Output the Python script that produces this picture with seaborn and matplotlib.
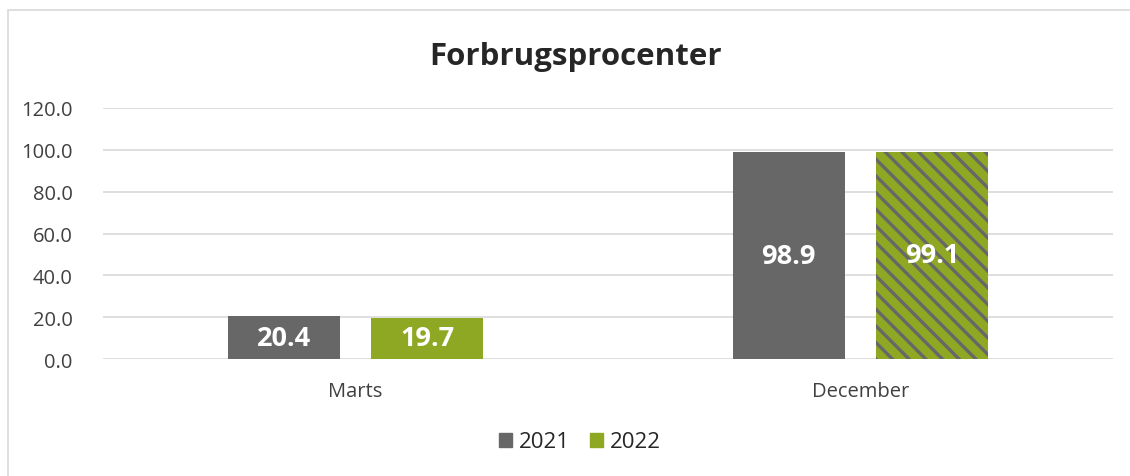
import matplotlib
matplotlib.use("Agg")
import matplotlib.pyplot as plt
import matplotlib.patches as mpatches
import seaborn as sns
import pandas as pd

categories = ["Marts", "December"]
years = ["2021", "2022"]
values_2021 = [20.4, 98.9]
values_2022 = [19.7, 99.1]
yticks = [0, 20, 40, 60, 80, 100, 120]
title = "Forbrugsprocenter"

GREY = "#676767"
GREEN = "#8fa823"

sns.set_theme(style="white")
plt.rcParams["font.family"] = ["Open Sans", "DejaVu Sans"]
plt.rcParams["hatch.linewidth"] = 2.4

df = pd.DataFrame({
    "cat": categories * 2,
    "year": [years[0]] * len(categories) + [years[1]] * len(categories),
    "val": values_2021 + values_2022,
})

fig = plt.figure(figsize=(11.30, 4.77), dpi=100)
ax = fig.add_axes([103 / 1130, 1 - 360 / 477, (1113 - 103) / 1130, (360 - 109) / 477])

sns.barplot(data=df, x="cat", y="val", hue="year", order=categories, hue_order=years,
            palette=[GREY, GREEN], width=0.568, gap=0.22, ax=ax, legend=False,
            saturation=1, errorbar=None, linewidth=0)

# hatch December 2022 bar
for cont, yr in zip(ax.containers, years):
    for i, bar in enumerate(cont.patches):
        if yr == "2022" and categories[i] == "December":
            bar.set_hatch("\\\\")
            bar.set_edgecolor(GREY)
            bar.set_linewidth(0)
    ax.bar_label(cont, labels=[f"{v:.1f}" for v in cont.datavalues], label_type="center",
                 color="white", fontsize=19.5, fontweight="bold")

ax.set_ylim(0, 120)
ax.set_xlim(-0.5, 1.5)
ax.set_yticks(yticks)
ax.set_yticklabels([f"{t:.1f}" for t in yticks], fontsize=14.5, color="#404040")
ax.tick_params(axis="x", labelsize=14.5, colors="#404040", pad=10)
ax.tick_params(axis="y", pad=22, length=0)
ax.set_xlabel("")
ax.set_ylabel("")
ax.grid(axis="y", color="#d9d9d9", linewidth=1.2)
ax.set_axisbelow(True)
for s in ax.spines.values():
    s.set_visible(False)

fig.text(576 / 1130, 1 - 57 / 477, title, ha="center", va="center",
         fontsize=22.5, fontweight="bold", color="#262626")

handles = [mpatches.Patch(color=GREY, label=years[0]), mpatches.Patch(color=GREEN, label=years[1])]
fig.legend(handles=handles, loc="center", bbox_to_anchor=(580 / 1130, 1 - 443 / 477), ncol=2,
           frameon=False, fontsize=16, handlelength=0.6, handleheight=0.6,
           handletextpad=0.3, columnspacing=0.9)

border = mpatches.Rectangle((8 / 1130, -0.05), 1.2, 1 - 11 / 477 + 0.05, transform=fig.transFigure,
                            fill=False, edgecolor="#d9d9d9", linewidth=1.2)
fig.patches.append(border)

fig.savefig("out.png", dpi=100)
